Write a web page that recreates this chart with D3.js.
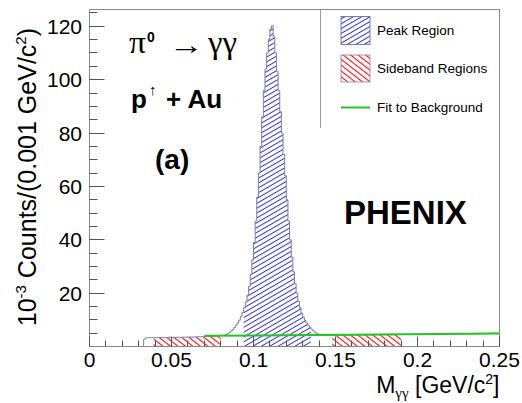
<!DOCTYPE html>
<html lang="en">
<head>
  <meta charset="UTF-8">
  <title>pi0 peak</title>
  <script src="https://d3js.org/d3.v7.min.js"></script>
  <style>
      body { margin: 0; background: #fff; }
      svg { display: block; }
      text { font-family: "Liberation Sans", Arial, Helvetica, sans-serif; fill: #000; }
      .tick-label { font-size: 21px; }
  </style>
</head>
<body>
<svg width="522" height="403"></svg>
<script>

  // histogram, 0.001 GeV/c^2 bins, starting at 0.033
  const binStart = 0.033;
  const binWidth = 0.001;
  const counts = [
    2.7, 3.2, 3.3, 3.3, 3.3, 3.4, 3.3,
    3.3, 3.4, 3.3, 3.4, 3.4, 3.3, 3.4, 3.4, 3.5, 3.4,
    3.4, 3.5, 3.4, 3.5, 3.5, 3.4, 3.5, 3.5, 3.5, 3.6,
    3.5, 3.6, 3.5, 3.6, 3.6, 3.6, 3.7, 3.6, 3.7, 3.7,
    3.7, 3.8, 3.7, 3.8, 3.8, 3.9, 3.9, 4.0, 4.0, 4.1,
    4.1, 4.2, 4.3, 4.5, 4.8, 5.2, 5.8, 6.4, 7.1, 7.9,
    8.8, 9.9, 11.2, 12.8, 14.6, 16.6, 19.2, 22.5, 27, 32.5,
    39, 47, 56, 65, 75, 86, 96, 104, 110, 115,
    119, 120.2, 116, 110, 103, 96, 88, 80, 72, 64,
    55, 47, 40, 33.5, 28, 23.5, 20, 17, 14.5, 12.5,
    11, 9.8, 8.8, 8.0, 7.2, 6.5, 5.9, 5.4, 5.0, 4.7,
    4.5, 4.4, 4.3, 4.3, 4.2, 4.3, 4.2, 4.3, 4.3, 4.2,
    4.3, 4.3, 4.2, 4.3, 4.3, 4.3, 4.2, 4.3, 4.3, 4.3,
    4.3, 4.4, 4.3, 4.3, 4.4, 4.3, 4.4, 4.3, 4.4, 4.4,
    4.4, 4.3, 4.4, 4.4, 4.4, 4.5, 4.4, 4.4, 4.5, 4.4,
    4.5, 4.4, 4.5, 4.5, 4.4, 4.5, 4.5, 4.5, 4.6, 4.5,
    4.5, 4.6, 4.5, 4.6, 4.5, 4.6, 4.6, 4.5, 4.6, 4.6,
    4.6, 4.6, 4.7, 4.6, 4.6, 4.7, 4.6, 4.7, 4.7, 4.6,
    4.7, 4.7, 4.6, 4.7, 4.7, 4.8, 4.7, 4.7, 4.7, 4.8,
    4.7, 4.8, 4.8, 4.7, 4.8, 4.8, 4.8, 4.7, 4.8, 4.8,
    4.8, 4.9, 4.8, 4.8, 4.9, 4.8, 4.9, 4.9, 4.8, 4.9,
    4.9, 4.9, 4.8, 4.9, 5.0, 4.9, 4.9, 5.0, 4.9, 5.0
  ];

  const peakRange = [0.094, 0.135];
  const sidebandRanges = [[0.039, 0.080], [0.148, 0.190]];

  // linear background fit
  const fitX = [0.07, 0.25];
  const fitY = [4.0, 4.9];

  const xMajor = [0, 0.05, 0.1, 0.15, 0.2, 0.25];
  const xLabels = ["0", "0.05", "0.1", "0.15", "0.2", "0.25"];
  const xMinor = d3.range(1, 25).map(i => i / 100);
  const yMajor = [20, 40, 60, 80, 100, 120];
  const yMinor = d3.range(5, 126, 5);

  const legendLabels = ["Peak Region", "Sideband Regions", "Fit to Background"];

  const blue = "#2f2fc8", red = "#e01e1e", green = "#1ec81e", outline = "#7c7cb8", tickColor = "#555";

  const svg = d3.select("svg");
  const fLeft = 89.5, fRight = 499.5, fTop = 9.5, fBottom = 346.5;

  const x = d3.scaleLinear().domain([0, 0.25]).range([fLeft, fRight]);
  const y = d3.scaleLinear().domain([0, 126.3]).range([fBottom, fTop]);
  const crisp = v => Math.round(v - 0.5) + 0.5;

  const bins = counts.map((v, i) => ({x0: +(binStart + i * binWidth).toFixed(3), v}));

  // hatch patterns
  const defs = svg.append("defs");
  function hatch(id, color, angle, gap, w) {
    defs.append("pattern")
      .attr("id", id)
      .attr("patternUnits", "userSpaceOnUse")
      .attr("width", 10).attr("height", gap)
      .attr("patternTransform", `rotate(${angle})`)
      .append("line")
      .attr("x1", 0).attr("x2", 10)
      .attr("y1", gap / 2).attr("y2", gap / 2)
      .attr("stroke", color).attr("stroke-width", w);
  }
  hatch("hBlue", blue, -30, 4.2, 1);
  hatch("hRed", red, 38, 4.6, 1.2);

  function stepPoints(lo, hi) {
    const sel = bins.filter(b => b.x0 >= lo - 1e-9 && b.x0 < hi - 1e-9);
    const pts = sel.map(b => [b.x0, b.v]);
    const last = sel[sel.length - 1];
    pts.push([last.x0 + binWidth, last.v]);
    return pts;
  }

  const area = d3.area()
    .x(d => x(d[0])).y0(y(0)).y1(d => y(d[1]))
    .curve(d3.curveStepAfter);

  sidebandRanges.forEach(r => {
    svg.append("path")
      .attr("d", area(stepPoints(r[0], r[1])))
      .attr("fill", "url(#hRed)");
  });

  svg.append("path")
    .attr("d", area(stepPoints(peakRange[0], peakRange[1])))
    .attr("fill", "url(#hBlue)");

  // full histogram outline
  const outlinePts = [[binStart, 0]].concat(bins.map(b => [b.x0, b.v]));
  outlinePts.push([0.25, counts[counts.length - 1]]);
  svg.append("path")
    .attr("d", d3.line().x(d => x(d[0])).y(d => y(d[1])).curve(d3.curveStepAfter)(outlinePts))
    .attr("fill", "none")
    .attr("stroke", outline)
    .attr("stroke-width", 1);

  // background fit
  svg.append("path")
    .attr("d", d3.line().x((d, i) => x(fitX[i])).y(d => y(d))(fitY))
    .attr("fill", "none")
    .attr("stroke", green)
    .attr("stroke-width", 2);

  svg.append("rect")
    .attr("x", fLeft).attr("y", fTop)
    .attr("width", fRight - fLeft).attr("height", fBottom - fTop)
    .attr("fill", "none").attr("stroke", "#8a8a8a").attr("stroke-width", 1);

  // ticks, pointing into the frame, as one path
  const tickPath = d3.path();
  xMinor.forEach(d => { tickPath.moveTo(crisp(x(d)), fBottom); tickPath.lineTo(crisp(x(d)), fBottom - 6); });
  xMajor.forEach(d => { tickPath.moveTo(crisp(x(d)), fBottom); tickPath.lineTo(crisp(x(d)), fBottom - 10); });
  yMinor.forEach(d => { tickPath.moveTo(fLeft, crisp(y(d))); tickPath.lineTo(fLeft + 8, crisp(y(d))); });
  yMajor.forEach(d => { tickPath.moveTo(fLeft, crisp(y(d))); tickPath.lineTo(fLeft + 15, crisp(y(d))); });
  svg.append("path")
    .attr("d", tickPath.toString())
    .attr("fill", "none")
    .attr("stroke", tickColor)
    .attr("stroke-width", 1);

  svg.append("g").selectAll("text").data(xMajor).enter().append("text")
    .attr("class", "tick-label")
    .attr("x", d => x(d)).attr("y", 367)
    .attr("text-anchor", "middle")
    .text((d, i) => xLabels[i]);
  svg.append("g").selectAll("text").data(yMajor).enter().append("text")
    .attr("class", "tick-label")
    .attr("x", 82).attr("y", d => y(d))
    .attr("dy", "0.36em")
    .attr("text-anchor", "end")
    .text(d => d);

  // axis titles
  const xt = svg.append("text")
    .attr("x", fRight).attr("y", 393)
    .attr("text-anchor", "end")
    .style("font-size", "23px");
  xt.append("tspan").text("M");
  xt.append("tspan").attr("dy", 5).style("font-size", "15px").style("font-family", "'Liberation Serif', serif").text("γγ");
  xt.append("tspan").attr("dy", -5).text(" [GeV/c");
  xt.append("tspan").attr("dy", -9).style("font-size", "14px").text("2");
  xt.append("tspan").attr("dy", 9).text("]");

  const yt = svg.append("text")
    .attr("transform", "translate(36,28) rotate(-90)")
    .attr("text-anchor", "end")
    .style("font-size", "25px");
  yt.append("tspan").text("10");
  yt.append("tspan").attr("dy", -10).style("font-size", "15px").text("-3");
  yt.append("tspan").attr("dy", 10).text(" Counts/(0.001 GeV/c");
  yt.append("tspan").attr("dy", -10).style("font-size", "15px").text("2");
  yt.append("tspan").attr("dy", 10).text(")");

  // annotations
  const serif = "'Liberation Serif', 'DejaVu Serif', serif";
  svg.append("text").attr("x", 129).attr("y", 53).style("font-family", serif).style("font-size", "31px")
    .attr("textLength", 17).attr("lengthAdjust", "spacingAndGlyphs").text("π");
  svg.append("text").attr("x", 147).attr("y", 42).style("font-size", "14px").style("font-weight", "bold").text("0");
  svg.append("text").attr("transform", "translate(169,54) scale(1.35,1)")
    .style("font-family", serif).style("font-size", "26px").text("→");
  svg.append("text").attr("x", 208).attr("y", 53).style("font-family", serif).style("font-size", "31px")
    .attr("textLength", 29).attr("lengthAdjust", "spacingAndGlyphs").text("γγ");

  svg.append("text").attr("x", 131).attr("y", 108).style("font-size", "26px").style("font-weight", "bold").text("p");
  svg.append("text").attr("x", 149).attr("y", 95).style("font-size", "15px").style("font-family", serif).text("↑");
  svg.append("text").attr("x", 166).attr("y", 108).style("font-size", "26px").style("font-weight", "bold").text("+ Au");

  svg.append("text").attr("x", 155).attr("y", 169).style("font-size", "28px").style("font-weight", "bold").text("(a)");

  svg.append("text").attr("x", 344).attr("y", 224).style("font-size", "33px").style("font-weight", "bold").text("PHENIX");

  // legend
  svg.append("line")
    .attr("x1", 320.5).attr("x2", 320.5).attr("y1", fTop).attr("y2", 128)
    .attr("stroke", "#9a9a9a");

  const legendY = [30.5, 68.5, 107.5];
  const lg = svg.append("g");
  lg.append("rect").attr("x", 341).attr("y", legendY[0] - 14).attr("width", 29).attr("height", 28)
    .attr("fill", "url(#hBlue)").attr("stroke", "#5a5ad0").attr("stroke-width", 0.8);
  lg.append("rect").attr("x", 341).attr("y", legendY[1] - 13.5).attr("width", 29).attr("height", 27)
    .attr("fill", "url(#hRed)").attr("stroke", "#9a78b8").attr("stroke-width", 0.8);
  lg.append("line").attr("x1", 341).attr("x2", 370).attr("y1", legendY[2]).attr("y2", legendY[2])
    .attr("stroke", green).attr("stroke-width", 2);
  lg.selectAll("text.leg")
    .data(legendLabels)
    .enter().append("text")
    .attr("class", "leg")
    .attr("x", 377)
    .attr("y", (d, i) => legendY[i] + 4.5)
    .style("font-size", "13.5px")
    .text(d => d);
</script>
</body>
</html>
